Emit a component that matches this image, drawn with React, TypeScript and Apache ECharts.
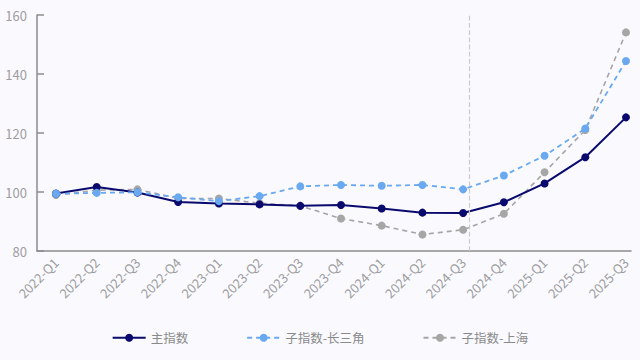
import React, { useEffect, useRef } from "react";
import * as echarts from "echarts";

const categories = [
  "2022-Q1", "2022-Q2", "2022-Q3", "2022-Q4",
  "2023-Q1", "2023-Q2", "2023-Q3", "2023-Q4",
  "2024-Q1", "2024-Q2", "2024-Q3", "2024-Q4",
  "2025-Q1", "2025-Q2", "2025-Q3",
];
const mainIndex = [99.5, 101.7, 99.8, 96.6, 96.1, 95.8, 95.3, 95.6, 94.4, 93.0, 92.9, 96.5, 102.9, 111.8, 125.3];
const yangtzeIndex = [99.4, 99.7, 99.9, 98.2, 96.9, 98.6, 101.9, 102.4, 102.1, 102.4, 100.9, 105.6, 112.3, 121.5, 144.4];
const shanghaiIndex = [99.0, 100.6, 100.9, 97.8, 97.8, 96.2, 95.3, 91.0, 88.6, 85.6, 87.2, 92.6, 106.7, 121.0, 154.1];
const seriesNames = ["主指数", "子指数-长三角", "子指数-上海"];
const yTicks = { min: 80, max: 160, interval: 20 };
const markerPosition = 10.15;

const FONT = "'Noto Sans CJK SC', 'Noto Sans', sans-serif";

export default function App() {
  const ref = useRef<HTMLDivElement>(null);
  useEffect(() => {
    document.body.style.margin = "0";
    document.body.style.background = "#f9f9fe";
    if (!ref.current) return;
    const chart = echarts.init(ref.current, undefined, { renderer: "svg" });
    const n = categories.length;
    chart.setOption({
      animation: false,
      backgroundColor: "#f9f9fe",
      textStyle: { fontFamily: FONT },
      legend: {
        data: seriesNames,
        bottom: 11,
        left: "center",
        itemWidth: 33,
        itemHeight: 10,
        itemGap: 58,
        textStyle: { color: "#8a8a8a", fontSize: 12.5, fontFamily: FONT },
      },
      grid: [
        { left: 56, right: 14, top: 15, bottom: 109 },
        { left: 37, right: 9, top: 15, bottom: 109 },
      ],
      xAxis: [
        {
          type: "category",
          gridIndex: 0,
          data: categories,
          boundaryGap: false,
          axisLine: { show: false },
          axisTick: { show: false },
          axisLabel: {
            rotate: 45,
            color: "#9e9e9e",
            fontSize: 13,
            margin: 9,
            interval: 0,
            fontFamily: FONT,
          },
        },
        {
          type: "value",
          gridIndex: 1,
          min: -0.467,
          max: n - 1 + 0.123,
          axisLine: { show: true, onZero: false, lineStyle: { color: "#8c8c8c", width: 1.5 } },
          axisTick: { show: false },
          axisLabel: { show: false },
          splitLine: { show: false },
        },
      ],
      yAxis: [
        {
          type: "value",
          gridIndex: 0,
          min: yTicks.min,
          max: yTicks.max,
          interval: yTicks.interval,
          show: false,
          splitLine: { show: false },
        },
        {
          type: "value",
          gridIndex: 1,
          min: yTicks.min,
          max: yTicks.max,
          interval: yTicks.interval,
          axisLine: { show: true, onZero: false, lineStyle: { color: "#8c8c8c", width: 1.5 } },
          axisTick: { show: true, inside: true, length: 7, lineStyle: { color: "#8c8c8c", width: 1.5 } },
          axisLabel: { color: "#9e9e9e", fontSize: 13, margin: 10, fontFamily: FONT },
          splitLine: { show: false },
        },
      ],
      series: [
        {
          name: "marker",
          type: "line",
          xAxisIndex: 1,
          yAxisIndex: 1,
          data: [],
          silent: true,
          markLine: {
            silent: true,
            symbol: "none",
            label: { show: false },
            lineStyle: { type: "dashed", color: "#cccccc", width: 1.2 },
            data: [{ xAxis: markerPosition }],
          },
        },
        {
          name: seriesNames[0],
          type: "line",
          data: mainIndex,
          symbol: "circle",
          symbolSize: 8,
          z: 4,
          color: "#0a0a6e",
          lineStyle: { color: "#0a0a6e", width: 2 },
          itemStyle: { color: "#0a0a6e" },
        },
        {
          name: seriesNames[1],
          type: "line",
          data: yangtzeIndex,
          symbol: "circle",
          symbolSize: 8,
          z: 5,
          color: "#6aa9f0",
          lineStyle: { color: "#6aa9f0", width: 1.8, type: [5, 4] },
          itemStyle: { color: "#6aa9f0" },
        },
        {
          name: seriesNames[2],
          type: "line",
          data: shanghaiIndex,
          symbol: "circle",
          symbolSize: 8,
          z: 3,
          color: "#a6a6a6",
          lineStyle: { color: "#a6a6a6", width: 1.6, type: [5, 4] },
          itemStyle: { color: "#a6a6a6" },
        },
      ],
    });
    return () => chart.dispose();
  }, []);
  return <div ref={ref} style={{ width: 640, height: 360 }} />;
}
